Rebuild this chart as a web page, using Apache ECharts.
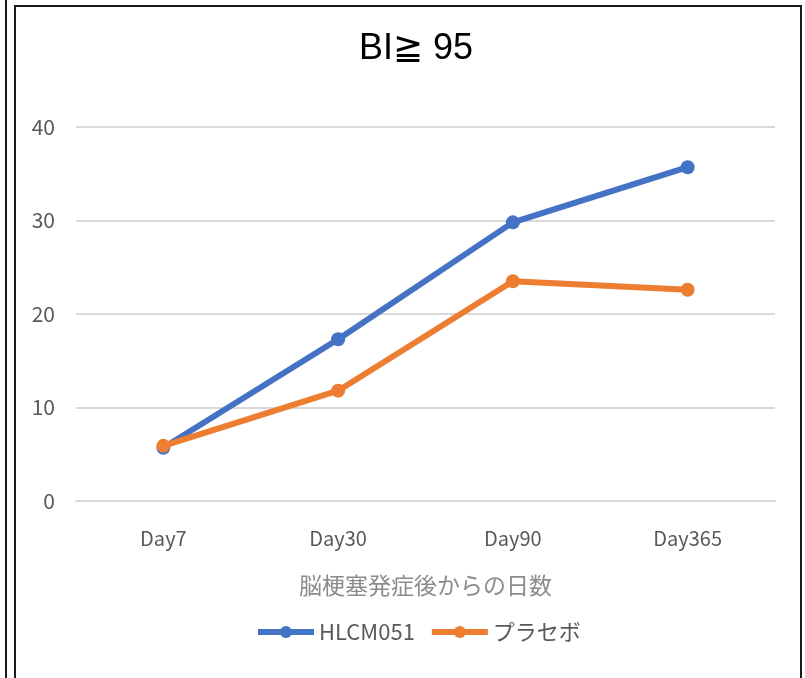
<!DOCTYPE html>
<html>
<head>
<meta charset="utf-8">
<script src="https://cdn.jsdelivr.net/npm/echarts@6/dist/echarts.min.js"></script>
<style>
    html, body { margin: 0; padding: 0; background: #fff; }
    #wrap { position: relative; width: 805px; height: 678px; overflow: hidden; }
    #leftLine { position: absolute; left: 5px; top: 0; width: 2px; height: 678px; background: #1a1a1a; }
    #box { position: absolute; left: 14px; top: 5px; width: 784px; height: 680px; border: 2px solid #1a1a1a; border-bottom: none; }
    #main { position: absolute; left: 0; top: 0; width: 805px; height: 678px; }
</style>
</head>
<body>
<div id="wrap">
    <div id="leftLine"></div>
    <div id="box"></div>
    <div id="main"></div>
</div>
<script>
// data
var days = ['Day7', 'Day30', 'Day90', 'Day365'];
var hlcm = [5.7, 17.3, 29.8, 35.7];
var placebo = [5.9, 11.8, 23.5, 22.6];
var yTicks = [0, 10, 20, 30, 40];

var chart = echarts.init(document.getElementById('main'));
var jp = "'Noto Sans CJK JP', 'Noto Sans', sans-serif";
var option = {
    animation: false,
    title: {
        text: 'BI≧ 95',
        left: 411,
        textAlign: 'center',
        top: 26,
        textStyle: {
            color: '#000',
            fontFamily: "'Liberation Sans', Arial, sans-serif",
            fontSize: 36,
            fontWeight: 'normal'
        }
    },
    legend: {
        bottom: 30,
        left: 250,
        itemWidth: 56,
        itemHeight: 15,
        itemGap: 14,
        lineStyle: { width: 6 },
        textStyle: { color: '#595959', fontFamily: jp, fontSize: 22 },
        data: ['HLCM051', 'プラセボ']
    },
    grid: { left: 76, right: 30, top: 127, bottom: 177 },
    xAxis: {
        type: 'category',
        data: days,
        boundaryGap: true,
        name: '脳梗塞発症後からの日数',
        nameLocation: 'middle',
        nameGap: 73,
        nameTextStyle: { color: '#8c8c8c', fontFamily: jp, fontSize: 23 },
        axisLine: { lineStyle: { color: '#d9d9d9', width: 2 } },
        axisTick: { show: false },
        axisLabel: { color: '#595959', fontFamily: jp, fontSize: 20, margin: 27 }
    },
    yAxis: {
        type: 'value',
        min: yTicks[0],
        max: yTicks[yTicks.length - 1],
        interval: 10,
        axisLine: { show: false },
        axisTick: { show: false },
        axisLabel: { color: '#595959', fontFamily: jp, fontSize: 21, margin: 21 },
        splitLine: { lineStyle: { color: '#d9d9d9', width: 2 } }
    },
    series: [
        {
            name: 'HLCM051',
            type: 'line',
            data: hlcm,
            symbol: 'circle',
            symbolSize: 14,
            lineStyle: { width: 6, color: '#4472c4' },
            itemStyle: { color: '#4472c4' }
        },
        {
            name: 'プラセボ',
            type: 'line',
            data: placebo,
            symbol: 'circle',
            symbolSize: 14,
            lineStyle: { width: 6, color: '#ed7d31' },
            itemStyle: { color: '#ed7d31' }
        }
    ]
};
chart.setOption(option);
</script>
</body>
</html>
